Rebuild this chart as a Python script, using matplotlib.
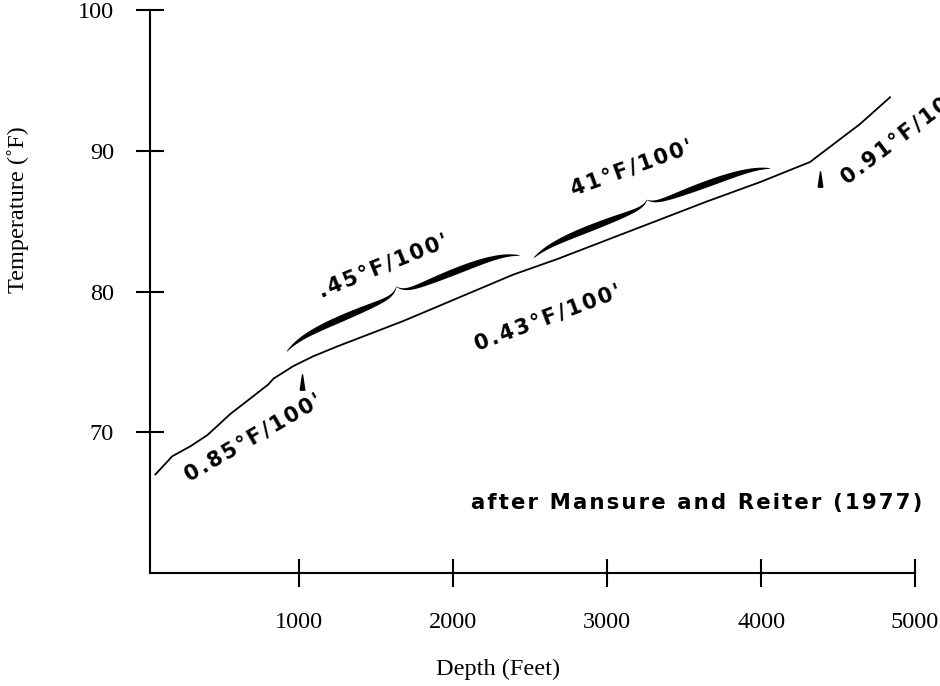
import numpy as np
import matplotlib.pyplot as plt
from matplotlib.patches import Polygon
from matplotlib.path import Path

# temperature profile
depth = [65, 175, 292, 403, 552, 682, 799, 831, 961, 1091, 1247, 1675,
         2390, 2675, 3649, 4000, 4318, 4643, 4838]
temp = [67.0, 68.3, 69.0, 69.8, 71.3, 72.4, 73.4, 73.8, 74.7, 75.4, 76.1, 77.9,
        81.2, 82.3, 86.4, 87.8, 89.2, 91.9, 93.8]

x_ticks = [1000, 2000, 3000, 4000, 5000]
y_ticks = [70, 80, 90, 100]

# gradient annotations
grad_labels = ["0.85°F/100'", ".45°F/100'", "0.43°F/100'", "41°F/100'", "0.91°F/100'"]
grad_depth = [700, 1545, 2617, 3162, 4534]
grad_temp = [69.6, 81.8, 78.1, 88.8, 87.9]
grad_angle = [30, 22, 20.5, 20, 37]
grad_ha = ['center', 'center', 'center', 'center', 'left']

# braces over the curve (depth ranges)
brace_start = [960, 2545]
brace_end = [2470, 4078]

# small arrowheads marking gradient changes
arrow_depth = [1020, 4380]
arrow_temp = [73.6, 88.0]

serif = 'Liberation Serif'
sans = ['DejaVu Sans']


def spaced(s):
    return '\u200a'.join(s)


def brace(ax, d0, d1, base, amp, cusp, wmax):
    to_disp = ax.transData.transform
    p0 = to_disp((d0, np.interp(d0, depth, temp)))
    p1 = to_disp((d1, np.interp(d1, depth, temp)))
    v = p1 - p0
    L = np.hypot(*v)
    u = v / L
    n = np.array([-u[1], u[0]])
    r = np.linspace(0, 1, 200)
    off = base + amp * (1 - np.exp(-r / 0.15)) + cusp * np.exp(-(1 - r) / 0.05)
    w = wmax * np.sin(np.pi * r) ** 0.8 + 0.6
    t = np.concatenate([r * L / 2, L - r[::-1] * L / 2])
    off = np.concatenate([off, off[::-1]])
    w = np.concatenate([w, w[::-1]])
    centre = p0 + np.outer(t, u) + np.outer(off, n)
    upper = centre + np.outer(w / 2, n)
    lower = centre - np.outer(w / 2, n)
    poly = np.vstack([upper, lower[::-1]])
    poly = ax.transData.inverted().transform(poly)
    ax.add_patch(Polygon(poly, closed=True, facecolor='black', lw=0))


fig = plt.figure(figsize=(9.4, 6.86), dpi=100)
ax = fig.add_axes([150 / 940, 113 / 686, 765 / 940, 563 / 686])

ax.plot(depth, temp, color='black', lw=1.3)
ax.set_xlim(30, 5000)
ax.set_ylim(60, 100)

for s in ['top', 'right']:
    ax.spines[s].set_visible(False)
for s in ['left', 'bottom']:
    ax.spines[s].set_linewidth(1.5)

ax.set_xticks(x_ticks)
ax.set_yticks(y_ticks)
ax.tick_params(direction='inout', length=20, width=1.5, labelsize=17.5)
ax.tick_params(axis='x', pad=18)
ax.tick_params(axis='y', pad=16)
for lab in ax.get_xticklabels() + ax.get_yticklabels():
    lab.set_family(serif)

ax.set_xlabel('Depth (Feet)', fontsize=17.5, family=serif)
ax.xaxis.set_label_coords(0.455, -0.172)
ax.xaxis.label.set_va('center')
ax.set_ylabel('Temperature (˚F)', fontsize=17.5, family=serif)
ax.yaxis.set_label_coords(-0.1725, 0.645)
ax.yaxis.label.set_va('center')

brace(ax, brace_start[0], brace_end[0], base=16, amp=10, cusp=8, wmax=6)
brace(ax, brace_start[1], brace_end[1], base=9, amp=8, cusp=6, wmax=6)

dart = Path([(-0.3, -1), (0, 1), (0.3, -1), (-0.3, -1)])
ax.plot(arrow_depth, arrow_temp, ls='none', marker=dart, markersize=11, color='black')

for txt, d, t, ang, ha in zip(grad_labels, grad_depth, grad_temp, grad_angle, grad_ha):
    ax.text(d, t, spaced(txt), rotation=ang, rotation_mode='anchor', ha=ha, va='center',
            fontsize=15, fontweight='bold', family=sans)

ax.text(3584, 65.0, spaced('after Mansure and Reiter (1977)'), ha='center', va='center',
        fontsize=15.3, fontweight='bold', family=sans)

fig.savefig('out.png', dpi=100)
